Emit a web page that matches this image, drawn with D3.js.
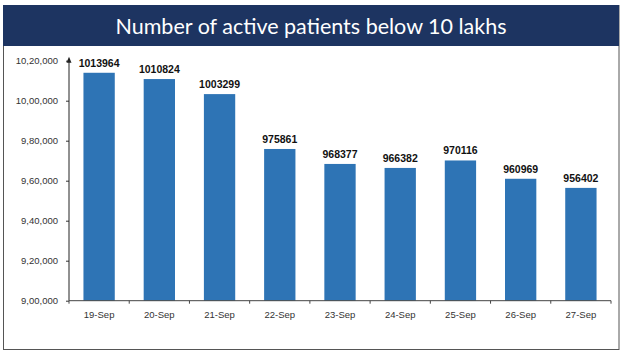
<!DOCTYPE html>
<html><head><meta charset="utf-8">
<script src="https://cdn.jsdelivr.net/npm/d3@7"></script>
<style>html,body{margin:0;padding:0;background:#fff;}svg{display:block;}</style>
</head><body>
<svg id="c" width="624" height="355"></svg>
<script>
const title = "Number of active patients below 10 lakhs";
const categories = ["19-Sep","20-Sep","21-Sep","22-Sep","23-Sep","24-Sep","25-Sep","26-Sep","27-Sep"];
const values = [1013964,1010824,1003299,975861,968377,966382,970116,960969,956402];
const yTicks = [900000,920000,940000,960000,980000,1000000,1020000];
const yTickLabels = ["9,00,000","9,20,000","9,40,000","9,60,000","9,80,000","10,00,000","10,20,000"];

const svg = d3.select("#c");
// outer border
svg.append("rect").attr("x",3.5).attr("y",5.5).attr("width",615.5).attr("height",344)
  .attr("fill","#fff").attr("stroke","#555").attr("stroke-width",1);
// title bar
svg.append("rect").attr("x",3).attr("y",5).attr("width",616).attr("height",41).attr("fill","#1d3461");
svg.append("text").attr("x",311).attr("y",33.5).attr("text-anchor","middle")
  .attr("fill","#fff").attr("font-family","Lato, 'Open Sans', sans-serif").attr("font-size",21.5)
  .text(title);

const x0 = 69, x1 = 611, yBase = 300.7, yTop = 60.7;
const x = d3.scaleBand().domain(categories).range([x0,x1]).paddingInner(0.48).paddingOuter(0.24);
const y = d3.scaleLinear().domain([900000,1020000]).range([yBase,yTop]);

// bars
svg.append("g").selectAll("rect").data(values).join("rect")
  .attr("x",(d,i)=>x(categories[i])).attr("width",x.bandwidth())
  .attr("y",d=>y(d)).attr("height",d=>yBase-y(d)).attr("fill","#2e74b5");

// value labels
svg.append("g").selectAll("text").data(values).join("text")
  .attr("x",(d,i)=>x(categories[i])+x.bandwidth()/2).attr("y",d=>y(d)-6)
  .attr("text-anchor","middle").attr("font-family","'Liberation Sans', Arial, sans-serif")
  .attr("font-weight","bold").attr("font-size",10.5).attr("fill","#111").text(d=>d);

// y axis
const yAxis = d3.axisLeft(y).tickValues(yTicks).tickFormat((d,i)=>yTickLabels[i]).tickSize(3).tickPadding(8);
const gy = svg.append("g").attr("transform",`translate(${x0},0)`).call(yAxis);
gy.select(".domain").remove();
gy.selectAll("line").attr("stroke","#333");
gy.selectAll("text").attr("font-family","'Liberation Sans', Arial, sans-serif").attr("font-size",9.5).attr("fill","#333");
// y axis line with arrow
svg.append("line").attr("x1",x0).attr("x2",x0).attr("y1",yBase).attr("y2",y(1020000)-2).attr("stroke","#222").attr("stroke-width",1);
svg.append("path").attr("d",`M${x0-2.5},${y(1020000)+2} L${x0},${y(1020000)-4} L${x0+2.5},${y(1020000)+2} Z`).attr("fill","#222");

// x axis
svg.append("line").attr("x1",x0).attr("x2",x1).attr("y1",yBase).attr("y2",yBase).attr("stroke","#444").attr("stroke-width",1);
const boundaries = categories.map((c,i)=>x0 + i*x.step()).concat([x1]);
svg.append("g").selectAll("line").data(boundaries).join("line")
  .attr("x1",d=>d).attr("x2",d=>d).attr("y1",yBase).attr("y2",yBase+3).attr("stroke","#444");
svg.append("g").selectAll("text").data(categories).join("text")
  .attr("x",d=>x(d)+x.bandwidth()/2).attr("y",yBase+17).attr("text-anchor","middle")
  .attr("font-family","'Liberation Sans', Arial, sans-serif").attr("font-size",9.5).attr("fill","#333").text(d=>d);
</script>
</body></html>
